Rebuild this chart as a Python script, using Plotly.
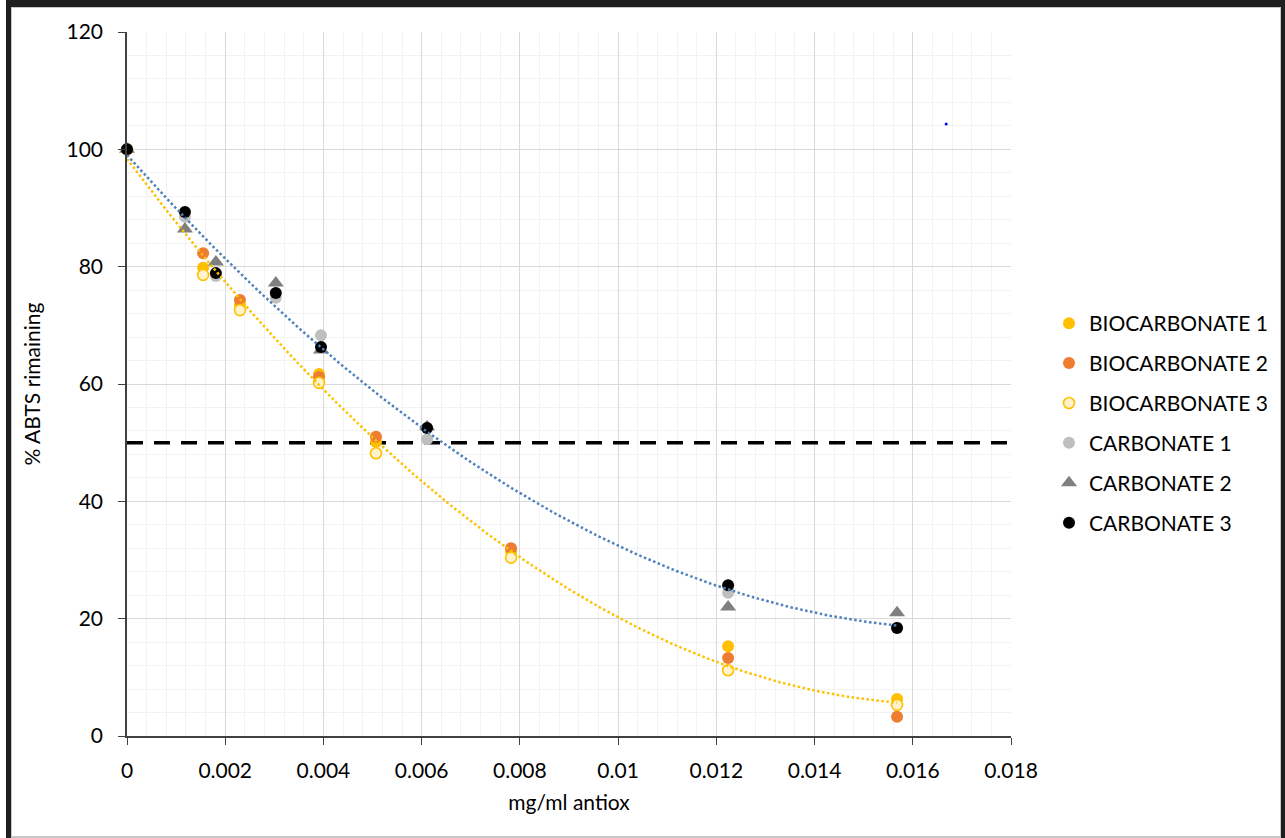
import numpy as np
import plotly.graph_objects as go

# Concentrations (mg/ml antioxidant)
bio_conc = [0, 0.00155, 0.0023, 0.00391, 0.00507, 0.00782, 0.01224, 0.01568]
carb_conc = [0, 0.00118, 0.00181, 0.00303, 0.00395, 0.00611, 0.01224, 0.01568]

# % ABTS remaining for each replicate
biocarbonate_1 = [100, 79.8, 73.5, 61.7, 50.1, 31.5, 15.3, 6.3]
biocarbonate_2 = [100, 82.3, 74.3, 61.2, 51.0, 32.0, 13.3, 3.3]
biocarbonate_3 = [100, 78.6, 72.6, 60.2, 48.2, 30.4, 11.2, 5.3]
carbonate_1 = [100, 88.5, 78.4, 74.7, 68.3, 50.6, 24.4, 18.5]
carbonate_2 = [100, 86.4, 80.8, 77.2, 65.8, 52.7, 22.0, 21.0]
carbonate_3 = [100, 89.3, 78.9, 75.5, 66.3, 52.5, 25.7, 18.4]

# stray single point on the sheet
stray_x = [0.01668]
stray_y = [104.3]

threshold = 50

FONT = "Lato"
FS = 21
W, H = 1285, 838
ML, MR, MT, MB = 127, 274, 32, 102
PW, PH = W - ML - MR, H - MT - MB


def px_x(p):
    return (p - ML) / PW


def px_y(p):
    return (H - MB - p) / PH


fig = go.Figure()

series = [
    ("BIOCARBONATE 1", bio_conc, biocarbonate_1,
     dict(symbol="circle", size=12, color="#FFC000", line=dict(width=0))),
    ("BIOCARBONATE 2", bio_conc, biocarbonate_2,
     dict(symbol="circle", size=12, color="#ED7D31", line=dict(width=0))),
    ("BIOCARBONATE 3", bio_conc, biocarbonate_3,
     dict(symbol="circle", size=11, color="#FFF2CC", line=dict(width=1.6, color="#FFC000"))),
    ("CARBONATE 1", carb_conc, carbonate_1,
     dict(symbol="circle", size=12, color="#BFBFBF", line=dict(width=0))),
    ("CARBONATE 2", carb_conc, carbonate_2,
     dict(symbol="triangle-up", size=14, color="#7F7F7F", line=dict(width=0))),
    ("CARBONATE 3", carb_conc, carbonate_3,
     dict(symbol="circle", size=12, color="#000000", line=dict(width=0))),
]

for i, (name, xs, ys, mk) in enumerate(series):
    fig.add_trace(go.Scatter(
        x=xs, y=ys, mode="markers", name=name, marker=mk,
        legendgroup=f"g{i}", showlegend=True, cliponaxis=False,
    ))

# second-order polynomial trendlines over pooled replicates
def trend(xs, ys_list):
    xa = np.concatenate([np.asarray(xs)] * len(ys_list))
    ya = np.concatenate([np.asarray(y) for y in ys_list])
    coef = np.polyfit(xa, ya, 2)
    xx = np.linspace(0, max(xs), 200)
    return xx, np.polyval(coef, xx)


bx, by = trend(bio_conc, [biocarbonate_1, biocarbonate_2, biocarbonate_3])
cx, cy = trend(carb_conc, [carbonate_1, carbonate_2, carbonate_3])

fig.add_trace(go.Scatter(x=bx, y=by, mode="lines", showlegend=False, hoverinfo="skip",
                         line=dict(color="#FFC000", width=2.5, dash="2.5px,2.5px")))
fig.add_trace(go.Scatter(x=cx, y=cy, mode="lines", showlegend=False, hoverinfo="skip",
                         line=dict(color="#4F81BD", width=2.5, dash="2.5px,2.5px")))

fig.add_trace(go.Scatter(x=stray_x, y=stray_y, mode="markers", showlegend=False,
                         hoverinfo="skip", marker=dict(size=3, color="#0000FF")))

shapes = [
    dict(type="line", xref="x", yref="y", x0=0, x1=0.018, y0=threshold, y1=threshold,
         line=dict(color="#000000", width=3.5, dash="16px,11px"), layer="between"),
]

# window frame around the sheet
dark = "#1F1F1F"
light = "#C8C8C8"
frame = [
    (6, 0, 11, H, dark),
    (6, 0, W, 7, dark),
    (1281, 0, W, H, dark),
    (11, 7, 12, H, light),
    (11, 7, 1281, 8, light),
    (1280, 7, 1281, H, light),
    (11, 836, 1281, H, light),
]
for x0, y0, x1, y1, col in frame:
    shapes.append(dict(type="rect", xref="paper", yref="paper",
                       x0=px_x(x0), x1=px_x(x1), y0=px_y(y1), y1=px_y(y0),
                       fillcolor=col, line=dict(width=0), layer="above"))

axis_common = dict(
    showline=True, linecolor="#404040", linewidth=1.5,
    ticks="outside", ticklen=7, tickcolor="#404040", tickwidth=1.3,
    showgrid=True, gridcolor="#D9D9D9", gridwidth=1.3,
    zeroline=False,
    tickfont=dict(family=FONT, size=FS, color="#000000"),
)

fig.update_layout(
    width=W, height=H, autosize=False,
    margin=dict(l=ML, r=MR, t=MT, b=MB),
    paper_bgcolor="white", plot_bgcolor="white",
    font=dict(family=FONT, size=FS, color="#000000"),
    shapes=shapes,
    xaxis=dict(
        range=[0, 0.018], dtick=0.002, tick0=0, ticklabelstandoff=8,
        minor=dict(dtick=0.0004, showgrid=True, gridcolor="#F2F2F2", gridwidth=1.3, ticks=""),
        title=dict(text="mg/ml antiox", font=dict(family=FONT, size=FS), standoff=14),
        **axis_common,
    ),
    yaxis=dict(
        range=[0, 120], dtick=20, tick0=0, ticklabelstandoff=11,
        minor=dict(dtick=4, showgrid=True, gridcolor="#F2F2F2", gridwidth=1.3, ticks=""),
        title=dict(text="% ABTS rimaining", font=dict(family=FONT, size=FS), standoff=20),
        **axis_common,
    ),
    legend=dict(
        x=px_x(1049), xanchor="left", y=px_y(303), yanchor="top",
        font=dict(family=FONT, size=FS, color="#000000"),
        tracegroupgap=9.6, bgcolor="rgba(0,0,0,0)",
    ),
)

fig.write_html("out.html")
